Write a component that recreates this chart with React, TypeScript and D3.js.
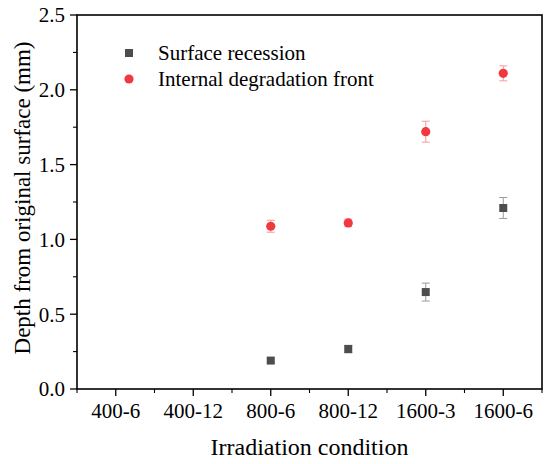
import React from "react";
import * as d3 from "d3";

const categories = ["400-6", "400-12", "800-6", "800-12", "1600-3", "1600-6"];
const surfaceCats = ["800-6", "800-12", "1600-3", "1600-6"];
const surfaceVals = [0.19, 0.267, 0.648, 1.21];
const surfaceErr = [0.015, 0.025, 0.06, 0.07];
const internalCats = ["800-6", "800-12", "1600-3", "1600-6"];
const internalVals = [1.088, 1.11, 1.72, 2.11];
const internalErr = [0.04, 0.025, 0.07, 0.05];
const yTicks = [0, 0.5, 1.0, 1.5, 2.0, 2.5];
const yMinor = [0.25, 0.75, 1.25, 1.75, 2.25];

const W = 550, H = 464;
const L = 77, R = 542, T = 15, B = 389;
const font = "'Liberation Serif', 'Times New Roman', serif";
const ts: React.CSSProperties = { fontFamily: font };

export default function App() {
  const x = d3.scaleLinear().domain([0.5, 6.5]).range([L, R]);
  const y = d3.scaleLinear().domain([0, 2.5]).range([B, T]);
  const xi = (c: string) => x(categories.indexOf(c) + 1);
  const minorX = d3.range(0, 7).map((i) => i + 0.5);
  const gray = "#4d4d4d";
  const red = "#f2383f";
  return (
    <svg width={W} height={H} style={{ position: "absolute", left: 0, top: 0, background: "#fff" }}>
      <rect x={0} y={0} width={W} height={H} fill="#fff" />
      {yTicks.map((v) => (
        <g key={"yt" + v}>
          <line x1={L - 7} x2={L} y1={y(v)} y2={y(v)} stroke="#000" strokeWidth={1.3} />
          <text style={ts} x={L - 12} y={y(v)} dy="0.35em" textAnchor="end" fontSize={21}>{v.toFixed(1)}</text>
        </g>
      ))}
      {yMinor.map((v) => (
        <line key={"ym" + v} x1={L - 4} x2={L} y1={y(v)} y2={y(v)} stroke="#000" strokeWidth={1.1} />
      ))}
      {categories.map((c, i) => (
        <g key={"xt" + c}>
          <line x1={x(i + 1)} x2={x(i + 1)} y1={B} y2={B + 7} stroke="#000" strokeWidth={1.3} />
          <text style={ts} x={x(i + 1)} y={B + 29} textAnchor="middle" fontSize={21}>{c}</text>
        </g>
      ))}
      {minorX.map((v) => (
        <line key={"xm" + v} x1={x(v)} x2={x(v)} y1={B} y2={B + 4} stroke="#000" strokeWidth={1.1} />
      ))}
      <rect x={L} y={T} width={R - L} height={B - T} fill="none" stroke="#000" strokeWidth={1.6} />
      {surfaceCats.map((c, i) => {
        const cx = xi(c);
        const lo = y(surfaceVals[i] - surfaceErr[i]);
        const hi = y(surfaceVals[i] + surfaceErr[i]);
        return (
          <g key={"se" + c} stroke="#9a9a9a" strokeWidth={1}>
            <line x1={cx} x2={cx} y1={lo} y2={hi} />
            <line x1={cx - 4} x2={cx + 4} y1={lo} y2={lo} />
            <line x1={cx - 4} x2={cx + 4} y1={hi} y2={hi} />
          </g>
        );
      })}
      {internalCats.map((c, i) => {
        const cx = xi(c);
        const lo = y(internalVals[i] - internalErr[i]);
        const hi = y(internalVals[i] + internalErr[i]);
        return (
          <g key={"ie" + c} stroke="#f79a9d" strokeWidth={1}>
            <line x1={cx} x2={cx} y1={lo} y2={hi} />
            <line x1={cx - 4} x2={cx + 4} y1={lo} y2={lo} />
            <line x1={cx - 4} x2={cx + 4} y1={hi} y2={hi} />
          </g>
        );
      })}
      {surfaceCats.map((c, i) => (
        <rect key={"sm" + c} x={xi(c) - 4} y={y(surfaceVals[i]) - 4} width={8} height={8} fill={gray} />
      ))}
      {internalCats.map((c, i) => (
        <circle key={"im" + c} cx={xi(c)} cy={y(internalVals[i])} r={4.6} fill={red} />
      ))}
      <rect x={125} y={49} width={8} height={8} fill={gray} />
      <text style={ts} x={158} y={53} dy="0.35em" fontSize={21}>Surface recession</text>
      <circle cx={129} cy={79} r={4.6} fill={red} />
      <text style={ts} x={158} y={79} dy="0.35em" fontSize={21}>Internal degradation front</text>
      <text style={ts} x={(L + R) / 2} y={455} textAnchor="middle" fontSize={24}>Irradiation condition</text>
      <text style={ts} transform={`translate(30,198) rotate(-90)`} textAnchor="middle" fontSize={23}>Depth from original surface (mm)</text>
    </svg>
  );
}
